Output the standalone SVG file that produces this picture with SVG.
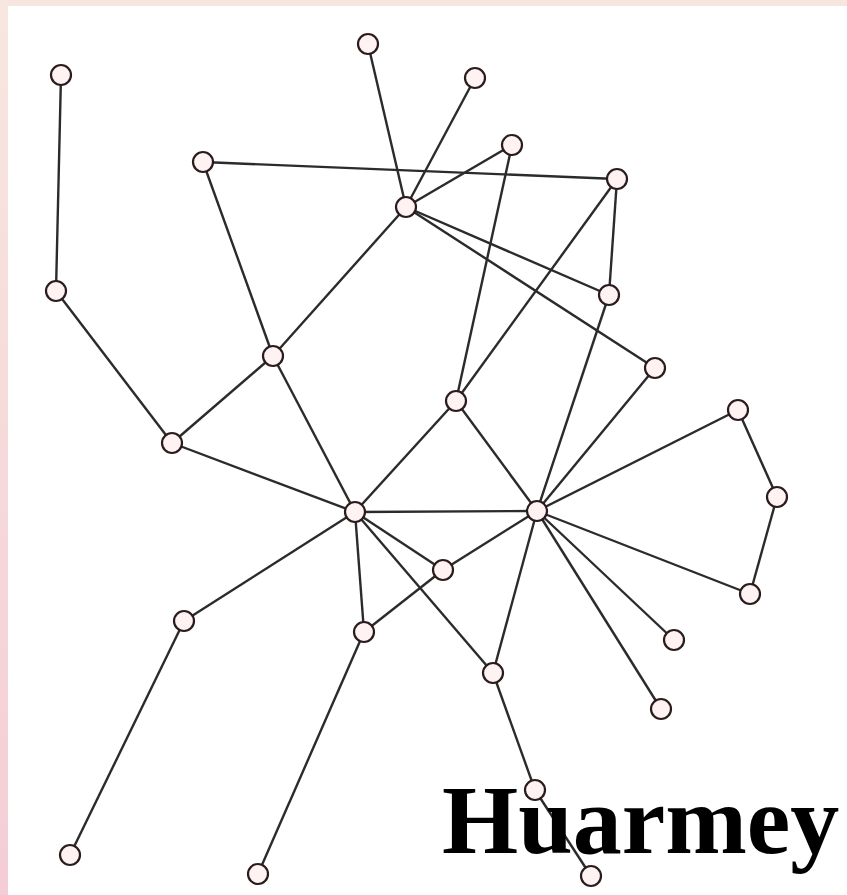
<svg xmlns="http://www.w3.org/2000/svg" width="847" height="895" viewBox="0 0 847 895">
<defs>
<linearGradient id="lb" x1="0" y1="0" x2="0" y2="1">
<stop offset="0" stop-color="#f7e7df"/>
<stop offset="1" stop-color="#f4cdd6"/>
</linearGradient>
<style>
.e{stroke:#2b2b2b;stroke-width:2.4;fill:none}
.n circle{fill:#fff2f2;stroke:#2a1c1c;stroke-width:2.2}
.t{font-family:"Liberation Serif","Times New Roman",serif;font-weight:bold;font-size:98px;fill:#000}
</style>
</defs>
<rect width="847" height="895" fill="#ffffff"/>
<rect width="847" height="6" fill="#f7e6df"/>
<rect width="8" height="895" fill="url(#lb)"/>
<g id="connectors">
<line class="e" x1="61" y1="75" x2="56" y2="291"/>
<line class="e" x1="56" y1="291" x2="172" y2="443"/>
<line class="e" x1="172" y1="443" x2="355" y2="512"/>
<line class="e" x1="172" y1="443" x2="273" y2="356"/>
<line class="e" x1="273" y1="356" x2="406" y2="207"/>
<line class="e" x1="203" y1="162" x2="273" y2="356"/>
<line class="e" x1="273" y1="356" x2="355" y2="512"/>
<line class="e" x1="203" y1="162" x2="617" y2="179"/>
<line class="e" x1="368" y1="44" x2="406" y2="207"/>
<line class="e" x1="475" y1="78" x2="406" y2="207"/>
<line class="e" x1="512" y1="145" x2="406" y2="207"/>
<line class="e" x1="512" y1="145" x2="456" y2="401"/>
<line class="e" x1="406" y1="207" x2="609" y2="295"/>
<line class="e" x1="406" y1="207" x2="655" y2="368"/>
<line class="e" x1="617" y1="179" x2="609" y2="295"/>
<line class="e" x1="617" y1="179" x2="456" y2="401"/>
<line class="e" x1="609" y1="295" x2="537" y2="511"/>
<line class="e" x1="655" y1="368" x2="537" y2="511"/>
<line class="e" x1="456" y1="401" x2="355" y2="512"/>
<line class="e" x1="456" y1="401" x2="537" y2="511"/>
<line class="e" x1="355" y1="512" x2="537" y2="511"/>
<line class="e" x1="738" y1="410" x2="537" y2="511"/>
<line class="e" x1="738" y1="410" x2="777" y2="497"/>
<line class="e" x1="777" y1="497" x2="750" y2="594"/>
<line class="e" x1="750" y1="594" x2="537" y2="511"/>
<line class="e" x1="537" y1="511" x2="443" y2="570"/>
<line class="e" x1="355" y1="512" x2="443" y2="570"/>
<line class="e" x1="355" y1="512" x2="184" y2="621"/>
<line class="e" x1="355" y1="512" x2="364" y2="632"/>
<line class="e" x1="355" y1="512" x2="493" y2="673"/>
<line class="e" x1="443" y1="570" x2="364" y2="632"/>
<line class="e" x1="537" y1="511" x2="493" y2="673"/>
<line class="e" x1="537" y1="511" x2="674" y2="640"/>
<line class="e" x1="537" y1="511" x2="661" y2="709"/>
<line class="e" x1="493" y1="673" x2="535" y2="790"/>
<line class="e" x1="535" y1="790" x2="591" y2="876"/>
<line class="e" x1="184" y1="621" x2="70" y2="855"/>
<line class="e" x1="364" y1="632" x2="258" y2="874"/>
</g>
<text class="t" x="442" y="853">Huarmey</text>
<g class="n">
<g id="n1"><circle cx="61" cy="75" r="10"/></g>
<g id="n2"><circle cx="368" cy="44" r="10"/></g>
<g id="n3"><circle cx="475" cy="78" r="10"/></g>
<g id="n4"><circle cx="512" cy="145" r="10"/></g>
<g id="n5"><circle cx="203" cy="162" r="10"/></g>
<g id="n6"><circle cx="617" cy="179" r="10"/></g>
<g id="n7"><circle cx="406" cy="207" r="10"/></g>
<g id="n8"><circle cx="56" cy="291" r="10"/></g>
<g id="n9"><circle cx="609" cy="295" r="10"/></g>
<g id="n10"><circle cx="273" cy="356" r="10"/></g>
<g id="n11"><circle cx="655" cy="368" r="10"/></g>
<g id="n12"><circle cx="456" cy="401" r="10"/></g>
<g id="n13"><circle cx="738" cy="410" r="10"/></g>
<g id="n14"><circle cx="172" cy="443" r="10"/></g>
<g id="n15"><circle cx="777" cy="497" r="10"/></g>
<g id="n16"><circle cx="355" cy="512" r="10"/></g>
<g id="n17"><circle cx="537" cy="511" r="10"/></g>
<g id="n18"><circle cx="443" cy="570" r="10"/></g>
<g id="n19"><circle cx="750" cy="594" r="10"/></g>
<g id="n20"><circle cx="184" cy="621" r="10"/></g>
<g id="n21"><circle cx="364" cy="632" r="10"/></g>
<g id="n22"><circle cx="674" cy="640" r="10"/></g>
<g id="n23"><circle cx="493" cy="673" r="10"/></g>
<g id="n24"><circle cx="661" cy="709" r="10"/></g>
<g id="n25"><circle cx="535" cy="790" r="10"/></g>
<g id="n26"><circle cx="70" cy="855" r="10"/></g>
<g id="n27"><circle cx="258" cy="874" r="10"/></g>
<g id="n28"><circle cx="591" cy="876" r="10"/></g>
</g>
</svg>
